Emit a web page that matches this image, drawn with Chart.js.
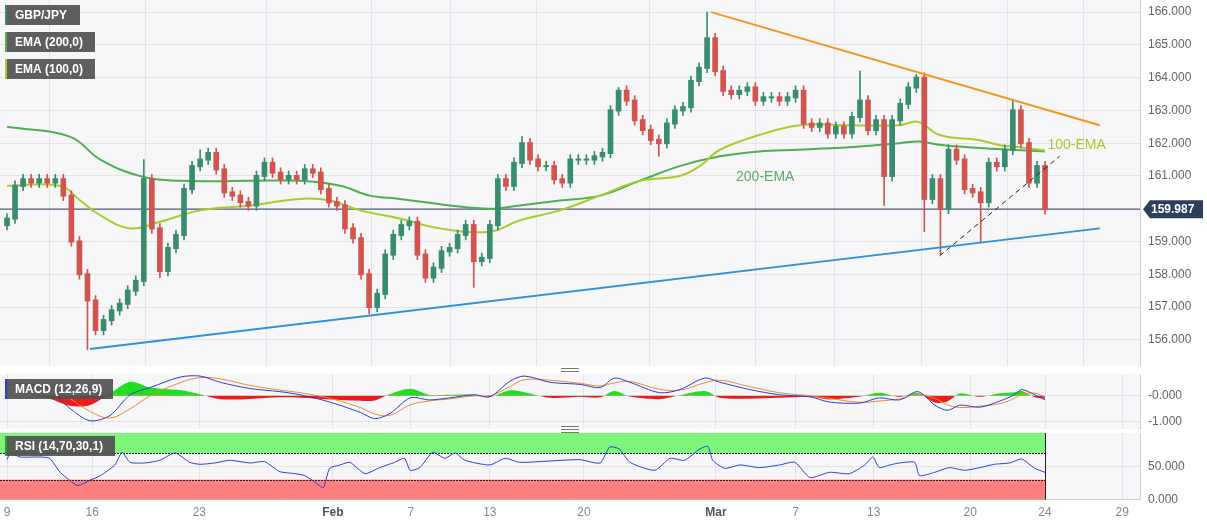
<!DOCTYPE html>
<html>
<head>
<meta charset="utf-8">
<script src="https://cdn.jsdelivr.net/npm/chart.js@4"></script>
<style>
  body { margin: 0; background: #fff; width: 1207px; height: 526px; overflow: hidden; font-family: "Liberation Sans", Arial, sans-serif; }
  .pane { position: absolute; left: 0; width: 1207px; }
  .grip { position: absolute; left: 561px; width: 18px; height: 5px; border-top: 1px solid #777; border-bottom: 1px solid #777; }
  .grip::after { content: ""; position: absolute; left: 0; right: 0; top: 1.5px; border-top: 1px solid #777; }
</style>
</head>
<body>
<div class="pane" style="top:0;height:366px"><canvas id="main"></canvas></div>
<div class="grip" style="top:368px"></div>
<div class="pane" style="top:374px;height:55px"><canvas id="macd"></canvas></div>
<div class="grip" style="top:426px"></div>
<div class="pane" style="top:432px;height:94px"><canvas id="rsi"></canvas></div>
<script>
// ── Data (candle index = one bar, ~4 per trading day) ───────────────
const closes = [
  159.7, 160.7, 160.9, 160.8, 160.9, 160.8, 160.9, 160.4, 159.0, 158.0,
  157.2, 156.3, 156.6, 156.9, 157.1, 157.5, 157.8, 160.9, 159.4, 158.1,
  158.8, 159.2, 160.6, 161.3, 161.5, 161.7, 161.2, 160.5, 160.4, 160.2,
  160.1, 161.0, 161.4, 161.1, 160.9, 161.0, 160.9, 161.2, 161.1, 160.6,
  160.2, 160.1, 159.4, 159.1, 158.0, 157.0, 157.4, 158.6, 159.2, 159.5,
  159.6, 158.6, 157.9, 158.2, 158.7, 158.8, 159.2, 159.5, 158.4, 158.5,
  159.5, 160.9, 160.7, 161.4, 162.0, 161.5, 161.3, 161.3, 160.9, 160.8,
  161.5, 161.5, 161.5, 161.6, 161.7, 163.0, 163.6, 163.3, 162.7, 162.4,
  162.1, 162.0, 162.6, 163.0, 163.1, 163.9, 164.3, 165.2, 164.2, 163.6,
  163.5, 163.6, 163.7, 163.3, 163.4, 163.4, 163.3, 163.4, 163.6, 162.6,
  162.5, 162.6, 162.3, 162.5, 162.3, 162.8, 163.3, 162.4, 162.7, 161.0,
  162.7, 163.2, 163.7, 164.0, 160.3, 160.9, 160.0, 161.8, 161.5, 160.6,
  160.5, 160.2, 161.4, 161.3, 161.8, 163.0, 162.0, 160.8, 161.3, 159.987
];
const firstOpen = 159.5;
const highSpikes = [[17, 161.5], [24, 161.8], [64, 162.2], [76, 163.7], [87, 166.0], [106, 164.2], [113, 164.1], [125, 163.3]];
const lowSpikes = [[10, 155.7], [19, 157.9], [45, 156.8], [58, 157.6], [81, 161.6], [109, 160.1], [114, 159.3], [116, 158.6], [121, 159.0]];

const ema200 = [[0,162.5],[7.8,162.2],[11.6,161.5],[16.5,161.0],[21.5,160.85],[30.2,160.85],[36.4,160.85],[41.4,160.7],[45.1,160.4],[48.8,160.3],[55,160.1],[60,160.0],[63.7,160.1],[68.7,160.25],[73.7,160.4],[78.6,160.85],[83.6,161.3],[88.6,161.6],[93.5,161.75],[98.5,161.8],[106,161.9],[110.9,162.0],[113.4,162.05],[115.9,161.95],[120.9,161.85],[124.6,161.8],[129,161.75]];
const ema100 = [[0,160.7],[6.6,160.7],[9.1,160.25],[11.6,159.8],[15.3,159.4],[19,159.6],[24,159.95],[30.2,160.1],[36.4,160.3],[40.1,160.25],[43.9,159.95],[48.8,159.7],[53.8,159.4],[60,159.3],[63.7,159.64],[68.7,159.95],[73.7,160.4],[78.6,160.85],[83.6,161.0],[86.1,161.3],[88.6,161.8],[93.5,162.25],[98.5,162.55],[104.7,162.55],[110.9,162.55],[113.2,162.65],[115.9,162.25],[120.9,162.09],[123.4,161.94],[125.8,161.88],[129,161.78]];

const resistanceLine = [[87.5, 166.0], [135.8, 162.55]];
const supportLine = [[10.3, 155.72], [135.8, 159.4]];
const shortSupport = [[115.9, 158.56], [130.8, 161.6]];
const lastPrice = 159.987;

const macdPts = [[0,.44,.40],[2.9,.45,.45],[5.3,.24,.35],[7.8,-.48,-.1],[10.3,-.96,-.6],[12.8,-.76,-.85],[15.3,.04,-.5],[17.8,.32,0],[21.5,.72,.5],[24,.76,.7],[26.5,.52,.65],[30.2,.28,.4],[33.9,.16,.22],[36.4,.04,.12],[40.1,-.24,-.1],[43.9,-.64,-.45],[45.7,-.88,-.7],[47.6,-.68,-.75],[50.1,-.08,-.35],[52.5,-.16,-.2],[55,-.08,-.12],[58.1,.04,0],[60,-.04,0],[62.5,.56,.35],[64.3,.76,.62],[67.5,.52,.6],[71.2,.44,.48],[73.7,.32,.38],[75.5,.68,.5],[77.4,.52,.55],[81.1,.12,.25],[83.6,.24,.22],[86.7,.68,.5],[88.6,.52,.6],[92.3,.24,.35],[96,.04,.12],[99.8,-.04,0],[102.2,-.24,-.1],[106,-.28,-.25],[108.4,-.08,-.2],[110.9,-.16,-.12],[113.2,.16,.05],[115.3,-.36,-.1],[116.9,-.56,-.35],[118.4,-.36,-.45],[120.9,-.44,-.4],[123.4,-.2,-.3],[125.2,.04,-.1],[126.1,.24,.05],[127.7,.04,.1],[129,-.16,-.05]];

const rsiPts = [[0,60],[0.4,70],[1.6,64],[4.1,64],[5.3,62],[6.6,41],[7.8,29],[8.8,21],[10.3,29],[11.6,36],[13.4,52],[14.3,71],[15.3,56],[17.1,55],[19,59],[20.9,70],[22.7,56],[24,53],[25.8,55],[27.7,59],[30.2,55],[32,57],[33.9,42],[35.8,39],[37,36],[38.3,26],[39.3,18],[40.1,47],[41.4,52],[42.6,56],[44.5,39],[46.3,48],[48.2,56],[49.4,62],[50.1,44],[51.3,48],[52.9,71],[54.4,62],[55.7,70],[56.9,59],[60,52],[61.9,62],[63.7,56],[67.5,58],[71.2,60],[73.7,55],[74.9,79],[76.1,76],[77.4,56],[80.5,44],[82.4,62],[84.2,59],[86.1,76],[87.1,80],[87.7,59],[89.2,47],[91.1,52],[93.5,48],[96,52],[97.9,56],[99.8,33],[102.2,41],[104.7,39],[106.6,52],[107.6,64],[108.4,48],[109.7,52],[110.9,55],[112.8,56],[113.4,36],[115.3,41],[117.1,48],[119,44],[120.9,48],[122.7,53],[124.6,55],[126.1,61],[127.7,47],[129,41]];

const tickPos = [0, 10.6, 23.9, 40.5, 50.2, 60.0, 71.7, 88.1, 98.0, 107.7, 119.7, 129, 138.6];
const tickLabels = ["9", "16", "23", "Feb", "7", "13", "20", "Mar", "7", "13", "20", "24", "29"];
const priceTicks = [156, 157, 158, 159, 160, 161, 162, 163, 164, 165, 166];

// ── Shared styling ──────────────────────────────────────────────────
const FONT = "'Liberation Sans', Arial, sans-serif";
const X_MIN = -0.87, X_MAX = 140.8, AXIS_W = 67;
const UP = "#3a8c6e", DOWN = "#d2544e", GRID = "#e4e4e8";

function xAxis(showLabels) {
  return {
    type: "linear", min: X_MIN, max: X_MAX, offset: false,
    afterBuildTicks: s => { s.ticks = tickPos.map(v => ({ value: v })); },
    afterFit: s => { s.paddingLeft = 0; s.paddingRight = 0; if (!showLabels) s.height = 0; },
    ticks: {
      display: showLabels, autoSkip: false, maxRotation: 0, padding: 6,
      color: ctx => (ctx.index === 3 || ctx.index === 7) ? "#555" : "#888",
      font: ctx => ({ family: FONT, size: 12, weight: (ctx.index === 3 || ctx.index === 7) ? "bold" : "normal" }),
      callback: (v, i) => tickLabels[i]
    },
    grid: { color: GRID, drawTicks: false },
    border: { color: "#cfcfd4" }
  };
}
function yAxis(min, max, ticks, fmt) {
  return {
    position: "right", min, max,
    afterBuildTicks: s => { s.ticks = ticks.map(v => ({ value: v })); },
    afterFit: s => { s.width = AXIS_W; s.paddingTop = 0; s.paddingBottom = 0; },
    ticks: { color: "#666", font: { family: FONT, size: 12 }, padding: 8, callback: fmt },
    grid: { color: GRID, drawTicks: false },
    border: { color: "#cfcfd4" }
  };
}
const plotBg = {
  id: "plotBg",
  beforeDraw(chart) {
    const { ctx, chartArea: a } = chart;
    ctx.save(); ctx.fillStyle = "#f7f7f9"; ctx.fillRect(a.left, a.top, a.width, a.height); ctx.restore();
  }
};
function tag(ctx, x, y, w, text, stripe) {
  ctx.fillStyle = "rgba(80,80,80,0.92)";
  ctx.fillRect(x, y, w, 20);
  ctx.fillStyle = stripe; ctx.fillRect(x, y, 2, 20);
  ctx.fillStyle = "#fff"; ctx.font = "bold 12px " + FONT; ctx.textBaseline = "middle";
  ctx.fillText(text, x + 10, y + 10.5);
}
const pairs = a => a.map(([x, y]) => ({ x, y }));

// ── Main price panel ────────────────────────────────────────────────
const opens = closes.map((c, i) => i === 0 ? firstOpen : closes[i - 1]);
const highs = closes.map((c, i) => Math.max(c, opens[i]) + 0.15);
const lows = closes.map((c, i) => Math.min(c, opens[i]) - 0.15);
highSpikes.forEach(([i, v]) => { highs[i] = v; });
lowSpikes.forEach(([i, v]) => { lows[i] = v; });
const candleColor = closes.map((c, i) => c >= opens[i] ? UP : DOWN);

const mainOverlay = {
  id: "mainOverlay",
  afterDraw(chart) {
    const { ctx, scales: { x, y }, chartArea: a } = chart;
    ctx.save();
    tag(ctx, 5, 5, 75, "GBP/JPY", "#3a8c6e");
    tag(ctx, 5, 32, 90, "EMA (200,0)", "#4caf50");
    tag(ctx, 5, 59, 90, "EMA (100,0)", "#a8cc2a");
    ctx.font = "14px " + FONT; ctx.textBaseline = "middle";
    ctx.fillStyle = "#5fa862"; ctx.fillText("200-EMA", x.getPixelForValue(90.6), y.getPixelForValue(160.95));
    ctx.fillStyle = "#a8cc2a"; ctx.fillText("100-EMA", x.getPixelForValue(129.3), y.getPixelForValue(161.95));
    const py = y.getPixelForValue(lastPrice), lx = a.right + 3;
    ctx.fillStyle = "#2b3e5a";
    ctx.beginPath();
    ctx.moveTo(lx, py); ctx.lineTo(lx + 7, py - 9); ctx.lineTo(lx + 60, py - 9);
    ctx.lineTo(lx + 60, py + 9); ctx.lineTo(lx + 7, py + 9); ctx.closePath(); ctx.fill();
    ctx.fillStyle = "#fff"; ctx.font = "bold 12px " + FONT;
    ctx.fillText(lastPrice.toFixed(3), lx + 8, py + 0.5);
    ctx.restore();
  }
};

new Chart(document.getElementById("main"), {
  type: "bar",
  data: {
    datasets: [
      { type: "line", data: pairs(ema200), borderColor: "#4caf50", borderWidth: 2, pointRadius: 0, tension: 0.4, order: 5 },
      { type: "line", data: pairs(ema100), borderColor: "#a8cc2a", borderWidth: 2, pointRadius: 0, tension: 0.4, order: 4 },
      { type: "line", data: [{ x: X_MIN, y: lastPrice }, { x: X_MAX, y: lastPrice }], borderColor: "#2b3e5a", borderWidth: 1, pointRadius: 0, order: 6 },
      { data: closes.map((c, i) => ({ x: i, y: [lows[i], highs[i]] })), backgroundColor: candleColor, barThickness: 1, grouped: false, order: 3 },
      { data: closes.map((c, i) => ({ x: i, y: [Math.min(c, opens[i]) - 0.02, Math.max(c, opens[i]) + 0.02] })), backgroundColor: candleColor, barThickness: 5, grouped: false, order: 2 },
      { type: "line", data: pairs(resistanceLine), borderColor: "#f7941d", borderWidth: 2, pointRadius: 0, order: 1 },
      { type: "line", data: pairs(supportLine), borderColor: "#2f8fe0", borderWidth: 2, pointRadius: 0, order: 1 },
      { type: "line", data: pairs(shortSupport), borderColor: "#222", borderWidth: 1, borderDash: [5, 4], pointRadius: 0, order: 1 }
    ]
  },
  options: {
    responsive: true, maintainAspectRatio: false, animation: false,
    layout: { padding: 0 },
    plugins: { legend: { display: false }, tooltip: { enabled: false } },
    scales: {
      x: xAxis(false),
      y: yAxis(155.2, 166.37, priceTicks, v => v.toFixed(3))
    }
  },
  plugins: [plotBg, mainOverlay]
});

// ── MACD panel ──────────────────────────────────────────────────────
new Chart(document.getElementById("macd"), {
  type: "line",
  data: {
    datasets: [
      { data: macdPts.map(([x, m, s]) => ({ x, y: m - s })), borderWidth: 0, pointRadius: 0, tension: 0.3,
        fill: { target: "origin", above: "#1fe01f", below: "#f01a1a" }, order: 3 },
      { data: macdPts.map(([x, , s]) => ({ x, y: s })), borderColor: "#f08a2a", borderWidth: 1, pointRadius: 0, tension: 0.4, order: 2 },
      { data: macdPts.map(([x, m]) => ({ x, y: m })), borderColor: "#2b3fd6", borderWidth: 1, pointRadius: 0, tension: 0.3, order: 1 }
    ]
  },
  options: {
    responsive: true, maintainAspectRatio: false, animation: false,
    layout: { padding: 0 },
    plugins: { legend: { display: false }, tooltip: { enabled: false } },
    scales: {
      x: xAxis(false),
      y: yAxis(-1.28, 0.84, [-1, 0], v => v === 0 ? "-0.000" : v.toFixed(3))
    }
  },
  plugins: [plotBg, { id: "macdTag", afterDraw(c) { c.ctx.save(); tag(c.ctx, 5, 5, 108, "MACD (12,26,9)", "#2b3fd6"); c.ctx.restore(); } }]
});

// ── RSI panel ───────────────────────────────────────────────────────
const rsiBands = {
  id: "rsiBands",
  beforeDatasetsDraw(chart) {
    const { ctx, scales: { x, y }, chartArea: a } = chart;
    const xr = x.getPixelForValue(closes.length - 1);
    ctx.save();
    ctx.fillStyle = "#7cf77c"; ctx.fillRect(a.left, y.getPixelForValue(100), xr - a.left, y.getPixelForValue(70) - y.getPixelForValue(100));
    ctx.fillStyle = "#ff7f7f"; ctx.fillRect(a.left, y.getPixelForValue(30), xr - a.left, y.getPixelForValue(0) - y.getPixelForValue(30));
    ctx.strokeStyle = "#222"; ctx.lineWidth = 1; ctx.setLineDash([2, 1]);
    [70, 30].forEach(v => { const py = Math.round(y.getPixelForValue(v)) + 0.5; ctx.beginPath(); ctx.moveTo(a.left, py); ctx.lineTo(xr, py); ctx.stroke(); });
    ctx.setLineDash([]);
    ctx.beginPath(); ctx.moveTo(Math.round(xr) + 0.5, y.getPixelForValue(100)); ctx.lineTo(Math.round(xr) + 0.5, y.getPixelForValue(0)); ctx.stroke();
    ctx.restore();
  },
  afterDraw(c) { c.ctx.save(); tag(c.ctx, 5, 4, 110, "RSI (14,70,30,1)", "#2e9e2e"); c.ctx.restore(); }
};

new Chart(document.getElementById("rsi"), {
  type: "line",
  data: {
    datasets: [
      { data: pairs(rsiPts), borderColor: "#2b3fd6", borderWidth: 1, pointRadius: 0, tension: 0.2 }
    ]
  },
  options: {
    responsive: true, maintainAspectRatio: false, animation: false,
    layout: { padding: { top: 1 } },
    plugins: { legend: { display: false }, tooltip: { enabled: false } },
    scales: {
      x: xAxis(true),
      y: yAxis(0, 100, [0, 50], v => v.toFixed(3))
    }
  },
  plugins: [plotBg, rsiBands]
});
</script>
</body>
</html>
